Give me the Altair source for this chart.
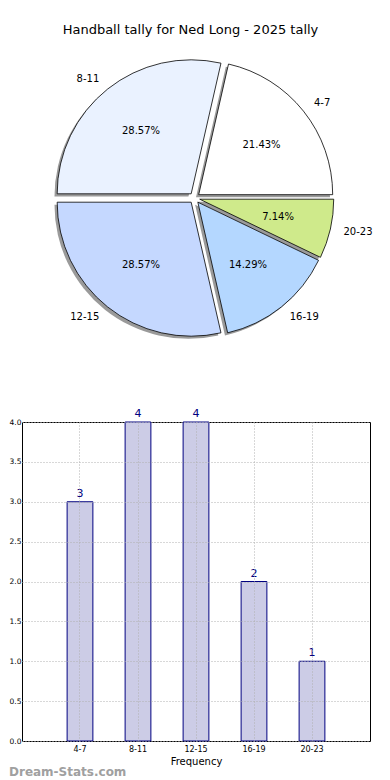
import math
import altair as alt
import pandas as pd

# ---- data ----
categories = ["4-7", "8-11", "12-15", "16-19", "20-23"]
counts = [3, 4, 4, 2, 1]
slice_colors = ["#ffffff", "#eaf2ff", "#c5d8ff", "#b4d7ff", "#cfea8b"]
y_ticks = [0.0, 0.5, 1.0, 1.5, 2.0, 2.5, 3.0, 3.5, 4.0]
title_text = "Handball tally for Ned Long - 2025 tally"
x_title = "Frequency"
watermark = ["Dream-Stats.com"]

# ---- style ----
FONT = "DejaVu Sans"
EXPLODE = 0.04
SHADOW = 0.02
LABEL_DIST = 1.1
PCT_DIST = 0.6
R = 134
PIE_W, PIE_H = 345, 300
BAR_W, BAR_H = 348, 319
TOTAL = sum(counts)

pie_df = pd.DataFrame({
    "cat": categories,
    "freq": counts,
    "order": list(range(len(categories))),
    "color": slice_colors,
})

pie_base = (
    alt.Chart(pie_df)
    .transform_joinaggregate(total="sum(freq)")
    .transform_window(cum="sum(freq)", sort=[alt.SortField("order")])
    .transform_calculate(
        start="datum.cum - datum.freq",
        a="2*PI*(datum.cum - datum.freq/2)/datum.total",
    )
    .transform_calculate(
        ox=f"{EXPLODE}*cos(datum.a)",
        oy=f"{EXPLODE}*sin(datum.a)",
        sx=f"{EXPLODE}*cos(datum.a) - {SHADOW}",
        sy=f"{EXPLODE}*sin(datum.a) - {SHADOW}",
        lx=f"{LABEL_DIST + EXPLODE}*cos(datum.a)",
        ly=f"{LABEL_DIST + EXPLODE}*sin(datum.a)",
        px=f"{PCT_DIST + EXPLODE}*cos(datum.a)",
        py=f"{PCT_DIST + EXPLODE}*sin(datum.a)",
        pct="format(100*datum.freq/datum.total, '.2f') + '%'",
    )
)

xs = alt.Scale(domain=[-PIE_W / 2 / R, PIE_W / 2 / R])
ys = alt.Scale(domain=[-PIE_H / 2 / R, PIE_H / 2 / R])
theta_scale = alt.Scale(domain=[0, TOTAL], range=[math.pi / 2, math.pi / 2 - 2 * math.pi])

shadow = pie_base.mark_arc(radius=R, fill="#9a9a9a").encode(
    x=alt.X("sx:Q", scale=xs, axis=None),
    y=alt.Y("sy:Q", scale=ys, axis=None),
    theta=alt.Theta("start:Q", scale=theta_scale),
    theta2="cum:Q",
)
wedges = pie_base.mark_arc(radius=R, stroke="black", strokeWidth=0.8).encode(
    x=alt.X("ox:Q", scale=xs, axis=None),
    y=alt.Y("oy:Q", scale=ys, axis=None),
    theta=alt.Theta("start:Q", scale=theta_scale),
    theta2="cum:Q",
    color=alt.Color("color:N", scale=None, legend=None),
)
cat_labels = pie_base.mark_text(
    align=alt.ExprRef(expr="datum.lx > 0 ? 'left' : 'right'"),
    baseline="middle", fontSize=10, font=FONT, color="black",
).encode(
    x=alt.X("lx:Q", scale=xs, axis=None),
    y=alt.Y("ly:Q", scale=ys, axis=None),
    text="cat:N",
)
pct_labels = pie_base.mark_text(
    align="center", baseline="middle", fontSize=10, font=FONT, color="black",
).encode(
    x=alt.X("px:Q", scale=xs, axis=None),
    y=alt.Y("py:Q", scale=ys, axis=None),
    text="pct:N",
)

pie = alt.layer(shadow, wedges, cat_labels, pct_labels).properties(
    width=PIE_W, height=PIE_H, view=alt.ViewBackground(strokeOpacity=0)
)

# ---- bar chart ----
bar_df = pd.DataFrame({"cat": categories, "freq": counts})

bx = alt.X(
    "cat:N", sort=categories,
    scale=alt.Scale(paddingInner=0.556, paddingOuter=0.778),
    axis=alt.Axis(
        title=x_title, labelAngle=0, grid=True, gridDash=[1, 2], gridColor="#b0b0b0",
        bandPosition=0.5, ticks=False, domain=False, labelFontSize=8, labelFont=FONT,
        labelColor="black", labelPadding=4, titleFontSize=10, titleFont=FONT,
        titleFontWeight="normal", titleColor="black", titlePadding=3, zindex=1,
    ),
)
y_axis = alt.Axis(
    title=None, values=y_ticks, tickCount=20, format=".1f", grid=True, gridDash=[1, 2],
    gridColor="#b0b0b0", ticks=False, domain=False, labelOverlap=False,
    labelFontSize=7.5, labelFont=FONT, labelColor="black", labelPadding=1, zindex=1,
)
y_scale = alt.Scale(domain=[0, 4], nice=False)

bars = alt.Chart(bar_df).mark_bar(fill="#ccccE6", stroke="#000080", strokeWidth=1).encode(
    x=bx, y=alt.Y("freq:Q", scale=y_scale, axis=y_axis)
)
vals = alt.Chart(bar_df).mark_text(
    baseline="bottom", dy=-3, fontSize=11, font=FONT, color="#000080"
).encode(
    x=alt.X("cat:N", sort=categories),
    y=alt.Y("freq:Q", scale=y_scale, axis=y_axis),
    text="freq:Q",
)
wm = alt.Chart(pd.DataFrame({"t": watermark})).mark_text(
    align="left", baseline="alphabetic", fontSize=12, fontWeight="bold", font=FONT, color="#a0a0a0"
).encode(x=alt.value(-13), y=alt.value(BAR_H + 35), text="t:N")

bar = alt.layer(bars, vals, wm).properties(
    width=BAR_W, height=BAR_H, view=alt.ViewBackground(stroke="black", strokeOpacity=1, strokeWidth=1)
)

chart = alt.vconcat(pie, bar, spacing=59).properties(
    title=alt.TitleParams(
        text=title_text, fontSize=13, fontWeight="normal", font=FONT, color="black",
        anchor="middle", offset=11,
    ),
    padding={"top": 16, "left": 0, "right": 0, "bottom": 0},
).configure_view(strokeOpacity=0)

chart.save("out.html", embed_options={"renderer": "svg", "actions": False})
